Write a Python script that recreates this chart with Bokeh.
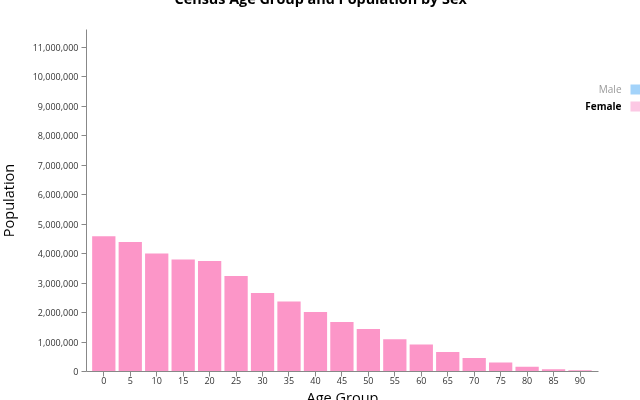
from bokeh.plotting import figure
from bokeh.models import (Range1d, NumeralTickFormatter, FixedTicker,
                          Label, BoxAnnotation, ColumnDataSource, Title)
from bokeh.embed import file_html
from bokeh.resources import INLINE

# ---- data ----
age_groups = ["0", "5", "10", "15", "20", "25", "30", "35", "40", "45",
              "50", "55", "60", "65", "70", "75", "80", "85", "90"]
female_population = [4589196, 4390483, 4001749, 3801743, 3751061, 3236056,
                     2665174, 2374265, 2021464, 1676295, 1440000, 1090000,
                     915000, 665000, 462000, 305000, 160000, 80000, 42000]
y_ticks = [0, 1000000, 2000000, 3000000, 4000000, 5000000, 6000000,
           7000000, 8000000, 9000000, 10000000, 11000000]
y_max = 11600000
title_text = "Census Age Group and Population by Sex"
x_title = "Age Group"
y_title = "Population"
legend_labels = ["Male", "Female"]
legend_colors = ["#a3d3fa", "#fcc8e4"]

FONT = "Open Sans"
BAR = "#fc96c8"

# band positions derived from the categories
band_index = list(range(len(age_groups)))
band_start = -0.654          # outer padding of the band scale
axis_end = band_start + 19.35
view_end = band_start + 20.94  # frame continues under the legend

source = ColumnDataSource(dict(idx=band_index, female=female_population))

T = 40  # canvas starts above the visible window (title is cropped there)
L = 5   # and slightly left of it
p = figure(width=640 + L, height=400 + T + 16, output_backend="svg",
           toolbar_location=None,
           x_range=Range1d(band_start, view_end),
           y_range=Range1d(0, y_max),
           min_border_left=86 + L, min_border_right=0,
           min_border_top=29 + T, min_border_bottom=45,
           styles={"position": "fixed", "top": f"-{T}px", "left": f"-{L}px"})

p.vbar(x="idx", top="female", width=0.88, source=source,
       fill_color=BAR, line_color=None)

p.outline_line_color = None
p.xgrid.grid_line_color = None
p.ygrid.grid_line_color = None
p.background_fill_color = "white"
p.border_fill_color = "white"

for ax in (p.xaxis[0], p.yaxis[0]):
    ax.axis_line_color = "#888"
    ax.major_tick_line_color = "#888"
    ax.minor_tick_line_color = None
    ax.major_tick_in = 0
    ax.major_tick_out = 5
    ax.major_label_text_font = FONT
    ax.major_label_text_font_size = "9px"
    ax.major_label_text_color = "#333"
    ax.axis_label_text_font = FONT
    ax.axis_label_text_font_size = "14.5px"
    ax.axis_label_text_font_style = "normal"
    ax.axis_label_text_color = "#000"

p.xaxis.ticker = FixedTicker(ticks=band_index)
p.xaxis.major_label_overrides = {i: lab for i, lab in zip(band_index, age_groups)}
p.xaxis.bounds = (band_start, axis_end)
p.xaxis.major_label_standoff = 0

p.yaxis.ticker = FixedTicker(ticks=y_ticks)
p.yaxis.formatter = NumeralTickFormatter(format="0,0")
p.yaxis.major_label_standoff = 3
p.yaxis.axis_label = y_title
p.yaxis.axis_label_standoff = 12

# main title (mostly above the visible window, as in the reference)
p.title.text = title_text
p.title.text_font = FONT
p.title.text_font_size = "14.4px"
p.title.text_font_style = "bold"
p.title.text_color = "#000"
p.title.align = "left"
p.title.offset = 88
p.title.standoff = 44

# x-axis title, centred under the axis line (not the whole frame)
p.add_layout(Title(text=x_title, text_font=FONT, text_font_size="14.5px",
                   text_font_style="normal", text_color="#000",
                   align="left", offset=220, vertical_align="top",
                   standoff=2), "below")

# ---- legend (screen units relative to plot frame) ----
p.add_layout(Label(x=535, y=283, x_units="screen", y_units="screen",
                   text=legend_labels[0], text_font=FONT, text_font_size="10px",
                   text_color="#999", text_align="right",
                   text_baseline="alphabetic"))
p.add_layout(Label(x=535, y=265.5, x_units="screen", y_units="screen",
                   text=legend_labels[1], text_font=FONT, text_font_size="10px",
                   text_font_style="bold", text_color="#000",
                   text_align="right", text_baseline="alphabetic"))
p.add_layout(BoxAnnotation(left=544, right=560, top=287, bottom=277,
                           left_units="screen", right_units="screen",
                           top_units="screen", bottom_units="screen",
                           fill_color=legend_colors[0], fill_alpha=1.0,
                           line_color=None))
p.add_layout(BoxAnnotation(left=544, right=560, top=270, bottom=260,
                           left_units="screen", right_units="screen",
                           top_units="screen", bottom_units="screen",
                           fill_color=legend_colors[1], fill_alpha=1.0,
                           line_color=None))

open("out.html", "w").write(file_html(p, INLINE))
